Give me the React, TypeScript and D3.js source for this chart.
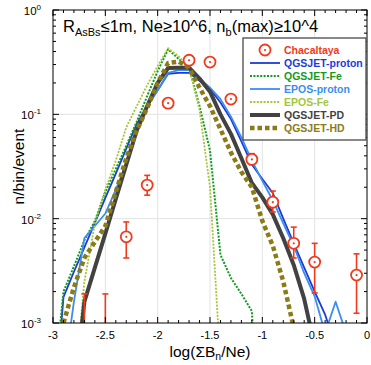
import React from 'react'
import * as d3 from 'd3'

// simulation curves, x = log(ΣBn/Ne) bin centres
const pdX = [-2.8, -2.7, -2.6, -2.5, -2.4, -2.3, -2.2, -2.1, -2.0, -1.9, -1.8, -1.7, -1.6, -1.5, -1.4, -1.3, -1.2, -1.1, -1.0, -0.9, -0.8, -0.7, -0.6, -0.5]
const pdY = [0.0002, 0.0016, 0.0034, 0.0072, 0.0155, 0.033, 0.07, 0.12, 0.2, 0.278, 0.28, 0.28, 0.22, 0.165, 0.1, 0.065, 0.038, 0.022, 0.016, 0.011, 0.0065, 0.0036, 0.0017, 0.0006]

const qpX = [-3.0, -2.9, -2.8, -2.7, -2.6, -2.5, -2.4, -2.3, -2.2, -2.1, -2.0, -1.9, -1.8, -1.7, -1.6, -1.5, -1.4, -1.3, -1.2, -1.1, -1.0, -0.9, -0.8, -0.7, -0.6, -0.5, -0.4, -0.3]
const qpY = [0.0001, 0.00177, 0.0031, 0.0053, 0.0091, 0.0158, 0.027, 0.047, 0.081, 0.12, 0.17, 0.245, 0.25, 0.25, 0.21, 0.175, 0.13, 0.09, 0.055, 0.033, 0.024, 0.0176, 0.01, 0.0058, 0.0034, 0.002, 0.0012, 0.0006]

const epX = [-2.9, -2.8, -2.7, -2.6, -2.5, -2.4, -2.3, -2.2, -2.1, -2.0, -1.9, -1.8, -1.7, -1.6, -1.5, -1.4, -1.3, -1.2, -1.1, -1.0, -0.9, -0.8, -0.7, -0.6, -0.5, -0.4, -0.3, -0.2]
const epY = [0.0003, 0.0016, 0.0065, 0.0085, 0.0112, 0.019, 0.034, 0.07, 0.12, 0.17, 0.25, 0.265, 0.265, 0.22, 0.18, 0.14, 0.095, 0.06, 0.036, 0.023, 0.015, 0.009, 0.0055, 0.003, 0.0018, 0.0008, 0.0016, 0.0008]

const qfX = [-3.0, -2.9, -2.8, -2.7, -2.6, -2.5, -2.4, -2.3, -2.2, -2.1, -2.0, -1.9, -1.8, -1.7, -1.6, -1.5, -1.4, -1.3, -1.2, -1.1, -1.0]
const qfY = [0.0002, 0.002, 0.0035, 0.0062, 0.0095, 0.018, 0.03, 0.05, 0.085, 0.15, 0.26, 0.42, 0.34, 0.28, 0.12, 0.045, 0.0045, 0.0027, 0.0019, 0.0013, 0.00001]

const efX = [-2.8, -2.7, -2.6, -2.5, -2.4, -2.3, -2.2, -2.1, -2.0, -1.9, -1.8, -1.7, -1.6, -1.5, -1.4]
const efY = [0.0002, 0.0025, 0.009, 0.019, 0.036, 0.075, 0.12, 0.19, 0.29, 0.43, 0.36, 0.28, 0.11, 0.02, 0.0004]

const hdX = [-3.0, -2.9, -2.8, -2.7, -2.6, -2.5, -2.4, -2.3, -2.2, -2.1, -2.0, -1.9, -1.8, -1.7, -1.6, -1.5, -1.4, -1.3, -1.2, -1.1, -1.0, -0.9, -0.8, -0.7]
const hdY = [0.0001, 0.001, 0.0022, 0.0042, 0.006, 0.0085, 0.018, 0.038, 0.07, 0.115, 0.2, 0.31, 0.32, 0.28, 0.18, 0.12, 0.072, 0.043, 0.028, 0.02, 0.0095, 0.0055, 0.0025, 0.0009]

// Chacaltaya data with error bars
const chX = [-2.7, -2.5, -2.3, -2.1, -1.9, -1.7, -1.5, -1.3, -1.1, -0.9, -0.7, -0.5, -0.1]
const chY = [0.0006, 0.0006, 0.0067, 0.021, 0.128, 0.33, 0.317, 0.14, 0.037, 0.0144, 0.0058, 0.00384, 0.00288]
const chHi = [0.0019, 0.0019, 0.0093, 0.026, 0.135, 0.345, 0.33, 0.148, 0.042, 0.0184, 0.0083, 0.0058, 0.0046]
const chLo = [0.0002, 0.0002, 0.0042, 0.0168, 0.121, 0.315, 0.3, 0.132, 0.033, 0.0116, 0.0042, 0.00194, 0.00124]

const xTicks = [-3, -2.5, -2, -1.5, -1, -0.5, 0]
const xTickLabels = ['-3', '-2.5', '-2', '-1.5', '-1', '-0.5', '0']
const yTicks = [1, 0.1, 0.01, 0.001]
const yTickExp = ['0', '-1', '-2', '-3']

const RED = '#f2391c'
const series = [
  { name: 'QGSJET-proton', x: qpX, y: qpY, color: '#1b3bd6', width: 1.8, dash: '' },
  { name: 'QGSJET-Fe', x: qfX, y: qfY, color: '#139a23', width: 2, dash: '2,1.4' },
  { name: 'EPOS-proton', x: epX, y: epY, color: '#3b8df2', width: 1.8, dash: '' },
  { name: 'EPOS-Fe', x: efX, y: efY, color: '#a5c53a', width: 1.8, dash: '2,1.4' },
  { name: 'QGSJET-PD', x: pdX, y: pdY, color: '#424242', width: 4, dash: '' },
  { name: 'QGSJET-HD', x: hdX, y: hdY, color: '#8b7b16', width: 4.5, dash: '4.5,3' },
]

const W = 371
const H = 365
const m = { left: 53, right: 367, top: 10, bottom: 323 }
const FONT = '"Liberation Sans", Arial, Helvetica, sans-serif'

export default function App() {
  const x = d3.scaleLinear().domain([-3, 0]).range([m.left, m.right])
  const y = d3.scaleLog().domain([0.001, 1]).range([m.bottom, m.top])
  const line = d3.line<[number, number]>().x(d => x(d[0])).y(d => y(d[1]))

  const minorX = d3.range(-30, 1).map(i => i / 10).filter(v => Math.abs(v * 2 - Math.round(v * 2)) > 1e-6)
  const minorY: number[] = []
  for (const dec of [0.001, 0.01, 0.1]) for (let k = 2; k <= 9; k++) minorY.push(dec * k)

  const legendRows = ['Chacaltaya', ...series.map(s => s.name)]
  const legendColors = [RED, ...series.map(s => s.color)]

  return (
    <svg width={W} height={H} style={{ position: 'absolute', left: 0, top: 0, background: '#fff' }} fontFamily={FONT}>
      <defs>
        <clipPath id="plotclip">
          <rect x={m.left} y={m.top} width={m.right - m.left} height={m.bottom - m.top} />
        </clipPath>
      </defs>
      <rect x={0} y={0} width={W} height={H} fill="#fff" />
      {/* grid */}
      {xTicks.slice(1, -1).map(t => (
        <line key={'gx' + t} x1={x(t)} x2={x(t)} y1={m.top} y2={m.bottom} stroke="#e3e3e3" strokeWidth={1} />
      ))}
      {yTicks.slice(1, -1).map(t => (
        <line key={'gy' + t} x1={m.left} x2={m.right} y1={y(t)} y2={y(t)} stroke="#e3e3e3" strokeWidth={1} />
      ))}

      {/* curves */}
      <g clipPath="url(#plotclip)">
        {series.map(s => (
          <path key={s.name} d={line(s.x.map((v, i) => [v, s.y[i]] as [number, number])) || ''}
            fill="none" stroke={s.color} strokeWidth={s.width} strokeDasharray={s.dash || undefined} strokeLinejoin="round" />
        ))}
        {chX.map((v, i) => (
          <g key={'ch' + i} stroke={RED} strokeWidth={1.6} fill="none">
            <line x1={x(v)} x2={x(v)} y1={y(chHi[i])} y2={y(chLo[i])} />
            <line x1={x(v) - 3} x2={x(v) + 3} y1={y(chHi[i])} y2={y(chHi[i])} />
            <line x1={x(v) - 3} x2={x(v) + 3} y1={y(chLo[i])} y2={y(chLo[i])} />
            <circle cx={x(v)} cy={y(chY[i])} r={5.5} fill="#fff" strokeWidth={1.8} />
            <circle cx={x(v)} cy={y(chY[i])} r={1.1} fill={RED} stroke="none" />
          </g>
        ))}
      </g>

      {/* axes box and ticks */}
      <rect x={m.left} y={m.top} width={m.right - m.left} height={m.bottom - m.top} fill="none" stroke="#000" strokeWidth={1} />
      <g stroke="#000" strokeWidth={1}>
        {xTicks.map(t => (
          <g key={'tx' + t}>
            <line x1={x(t)} x2={x(t)} y1={m.bottom} y2={m.bottom - 6} />
            <line x1={x(t)} x2={x(t)} y1={m.top} y2={m.top + 6} />
          </g>
        ))}
        {minorX.map(t => (
          <g key={'mx' + t}>
            <line x1={x(t)} x2={x(t)} y1={m.bottom} y2={m.bottom - 3} />
            <line x1={x(t)} x2={x(t)} y1={m.top} y2={m.top + 3} />
          </g>
        ))}
        {yTicks.map(t => (
          <g key={'ty' + t}>
            <line x1={m.left} x2={m.left + 6} y1={y(t)} y2={y(t)} />
            <line x1={m.right} x2={m.right - 6} y1={y(t)} y2={y(t)} />
          </g>
        ))}
        {minorY.map(t => (
          <g key={'my' + t}>
            <line x1={m.left} x2={m.left + 3} y1={y(t)} y2={y(t)} />
            <line x1={m.right} x2={m.right - 3} y1={y(t)} y2={y(t)} />
          </g>
        ))}
      </g>

      {/* tick labels */}
      {xTicks.map((t, i) => (
        <text key={'lx' + t} x={x(t)} y={m.bottom + 16} fontSize={11} textAnchor="middle" fill="#000">{xTickLabels[i]}</text>
      ))}
      {yTicks.map((t, i) => (
        <text key={'ly' + t} x={41} y={y(t) + 5} fontSize={11.5} textAnchor="end" fill="#000">
          10<tspan fontSize={8} dy={-5}>{yTickExp[i]}</tspan>
        </text>
      ))}

      {/* axis titles */}
      <text x={(m.left + m.right) / 2} y={357} fontSize={15.5} textAnchor="middle" fill="#000">
        log(ΣB<tspan fontSize={10.5} dy={3}>n</tspan><tspan dy={-3}>/Ne)</tspan>
      </text>
      <text transform={`translate(24,${(m.top + m.bottom) / 2}) rotate(-90)`} fontSize={15.5} textAnchor="middle" fill="#000">n/bin/event</text>

      {/* in-plot title */}
      <text x={63} y={32} fontSize={16.5} fill="#000">
        R<tspan fontSize={11} dy={4}>AsBs</tspan><tspan dy={-4}>≤1m, Ne≥10^6, n</tspan><tspan fontSize={11} dy={4}>b</tspan><tspan dy={-4}>(max)≥10^4</tspan>
      </text>

      {/* legend */}
      <rect x={243} y={38} width={123} height={102} fill="#fff" stroke="#4a4a4a" strokeWidth={1.3} />
      {legendRows.map((name, i) => {
        const yy = 50 + i * 13
        const s = i > 0 ? series[i - 1] : null
        return (
          <g key={'lg' + name}>
            {s ? (
              <line x1={250} x2={280} y1={yy} y2={yy} stroke={s.color} strokeWidth={s.width} strokeDasharray={s.dash || undefined} />
            ) : (
              <g>
                <circle cx={265} cy={yy} r={5.5} fill="#fff" stroke={RED} strokeWidth={1.8} />
                <circle cx={265} cy={yy} r={1.1} fill={RED} />
              </g>
            )}
            <text x={284} y={yy + 4} fontSize={10.5} fontWeight="bold" fill={legendColors[i]}>{name}</text>
          </g>
        )
      })}
    </svg>
  )
}
